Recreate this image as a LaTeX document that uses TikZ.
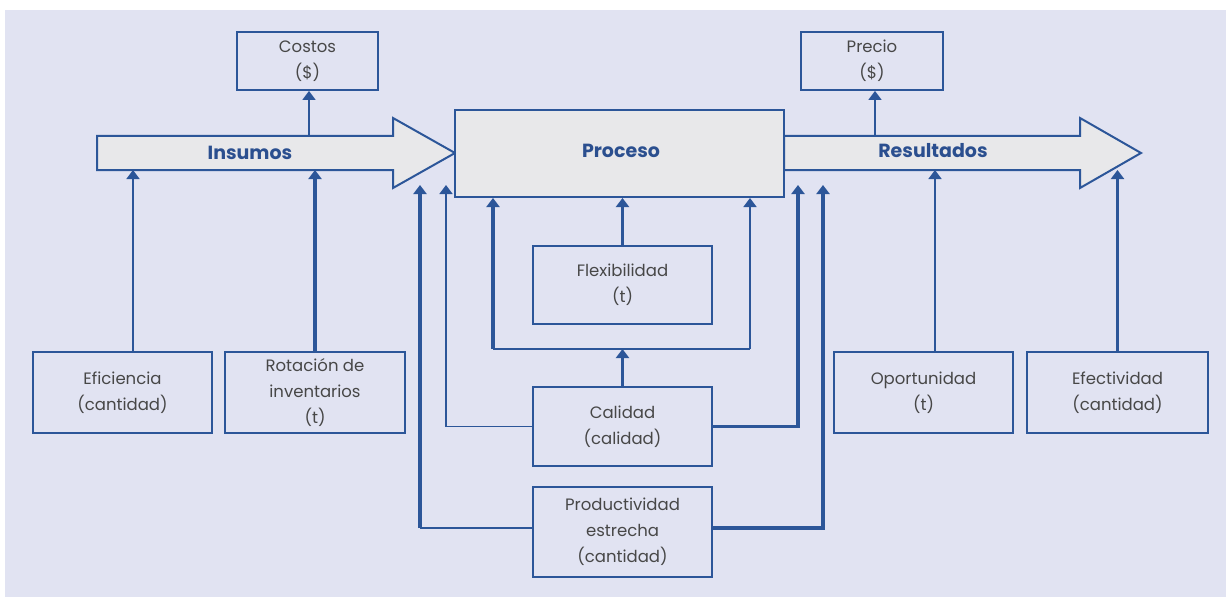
\documentclass[tikz,border=0pt]{standalone}
\usepackage{fontspec}
\setmainfont{Poppins}
\usetikzlibrary{arrows.meta,calc}
\definecolor{bg}{HTML}{E1E3F2}
\definecolor{lineblue}{HTML}{2C5699}
\definecolor{boxfill}{HTML}{E8E8EA}
\definecolor{txtgray}{HTML}{474747}
\definecolor{txtblue}{HTML}{2B4F8F}
\begin{document}
\begin{tikzpicture}[x=1pt,y=-1pt,
  box/.style={draw=lineblue,line width=1.8pt,align=center,text=txtgray,
    font=\fontsize{16.5}{26}\selectfont,inner sep=0pt},
  bigarrow/.style={draw=lineblue,line width=2pt,fill=boxfill,line join=miter},
  biglabel/.style={text=txtblue,font=\fontsize{19}{22}\selectfont\bfseries},
  tip/.style={-{Triangle[width=13pt,length=9pt]}},
  thinline/.style={draw=lineblue,line width=1.7pt},
  thickline/.style={draw=lineblue,line width=3.3pt},
  thinc/.style={thinline,tip},
  thickc/.style={thickline,tip}]
\useasboundingbox (0,0) rectangle (1226,599);
\fill[white] (0,0) rectangle (1226,599);
\fill[bg] (5,10) rectangle (1226,597);

% flow arrows
\draw[bigarrow] (97,136) -- (393,136) -- (393,118) -- (455,153) -- (393,188) -- (393,170) -- (97,170) -- cycle;
\draw[bigarrow] (784,136) -- (1080,136) -- (1080,118) -- (1141,153) -- (1080,188) -- (1080,170) -- (784,170) -- cycle;
\node[biglabel] (ins) at (250,153) {Insumos};
\node[biglabel] (res) at (933,151) {Resultados};
\coordinate (insTop) at (0,136);
\coordinate (insBot) at (0,170);
\coordinate (resTop) at (0,136);
\coordinate (resBot) at (0,170);

% central process
\node[box,fill=boxfill,line width=2pt,minimum width=329pt,minimum height=87pt] (proceso) at (619.5,153.5) {};
\node[biglabel] (proclabel) at (621,151) {Proceso};

% boxes
\node[box,minimum width=141pt,minimum height=58pt] (costos) at (307.5,61) {Costos\\(\$)};
\node[box,minimum width=142pt,minimum height=58pt] (precio) at (872,61) {Precio\\(\$)};
\node[box,minimum width=179pt,minimum height=81pt] (efi) at (122.5,392.5) {Eficiencia\\(cantidad)};
\node[box,minimum width=180pt,minimum height=81pt] (rot) at (315,392.5) {Rotación de\\inventarios\\(t)};
\node[box,minimum width=179pt,minimum height=81pt] (opo) at (923.5,392.5) {Oportunidad\\(t)};
\node[box,minimum width=181pt,minimum height=81pt] (efe) at (1117.5,392.5) {Efectividad\\(cantidad)};
\node[box,minimum width=179pt,minimum height=78pt] (flex) at (622.5,285) {Flexibilidad\\(t)};
\node[box,minimum width=179pt,minimum height=79pt] (cal) at (622.5,426.5) {Calidad\\(calidad)};
\node[box,minimum width=179pt,minimum height=90pt] (prod) at (622.5,532) {Productividad\\estrecha\\(cantidad)};

% connector positions
\coordinate (cx) at (309,0);
\coordinate (px) at (875,0);
\coordinate (ex) at (133,0);
\coordinate (ox) at (935,0);
\coordinate (loopL) at (493,349);
\coordinate (loopR) at (750,349);
\coordinate (tipY) at (0,185);
\coordinate (qL) at (446,0);
\coordinate (qR) at (798,0);
\coordinate (pL) at (420,0);
\coordinate (pR) at (823,0);
\coordinate (prodY) at (0,528);

% costs and price
\draw[thinc] (cx |- insTop) -- (cx |- costos.south);
\draw[thinc] (px |- resTop) -- (px |- precio.south);

% input and output indicators
\draw[thinc] (ex |- efi.north) -- (ex |- insBot);
\draw[thickc] (rot.north) -- (rot.north |- insBot);
\draw[thinc] (ox |- opo.north) -- (ox |- resBot);
\draw[thickc] (efe.north) -- (efe.north |- resBot);

% process indicators
\draw[thickc] (flex.north) -- (flex.north |- proceso.south);
\draw[thickc] (cal.north) -- (cal.north |- loopL);
\draw[line width=2.2pt,draw=lineblue] (loopL) -- (loopR);
\draw[thickc] (loopL) -- (loopL |- proceso.south);
\draw[thinc] (loopR) -- (loopR |- proceso.south);
\draw[thinc] (cal.west) -| (qL |- tipY);
\draw[thickc] (cal.east) -| (qR |- tipY);
\draw[thinline] (prod.west |- prodY) -- (pL |- prodY);
\draw[thickc] (pL |- prodY) -- (pL |- tipY);
\draw[thickc] (prod.east |- prodY) -| (pR |- tipY);
\end{tikzpicture}
\end{document}
